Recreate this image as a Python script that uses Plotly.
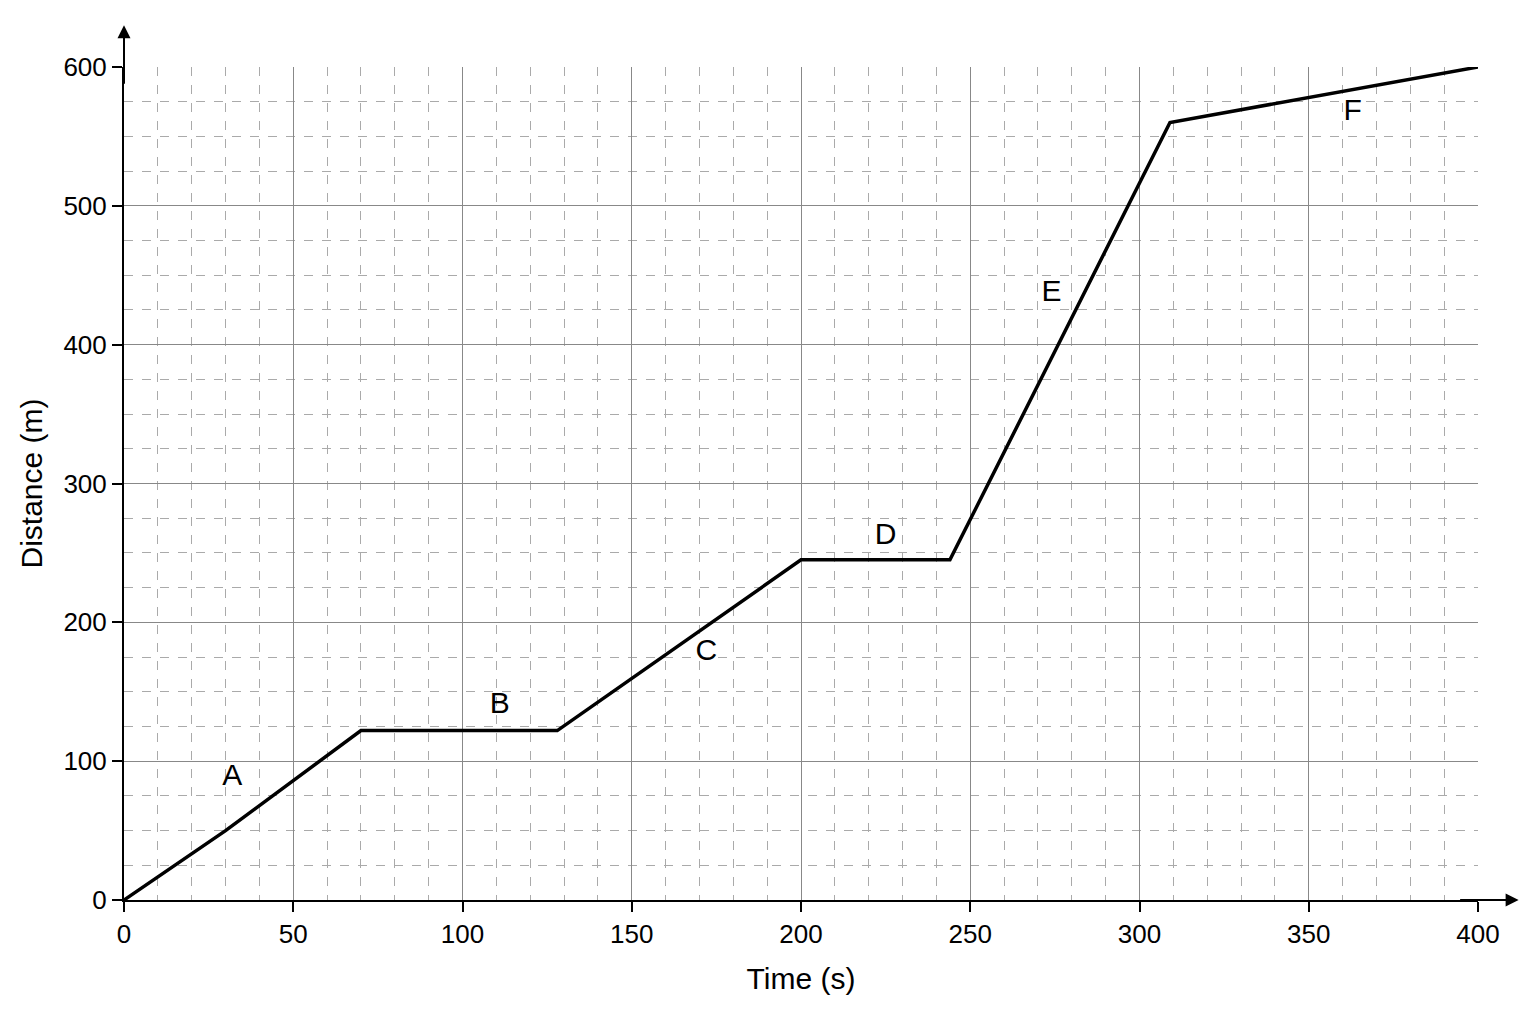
import plotly.graph_objects as go

time_s = [0, 30, 70, 128, 200, 244, 309, 400]
distance_m = [0, 50, 122, 122, 245, 245, 560, 600]

label_text = ["A", "B", "C", "D", "E", "F"]
label_x = [32, 111, 172, 225, 274, 363]
label_y = [88, 140, 178, 262, 437, 567]

FONT = "Liberation Sans, Arial, sans-serif"

fig = go.Figure()
fig.add_trace(go.Scatter(x=time_s, y=distance_m, mode="lines",
                         line=dict(color="black", width=3.5), showlegend=False))
fig.add_trace(go.Scatter(x=label_x, y=label_y, mode="text", text=label_text,
                         textfont=dict(size=30, color="black", family=FONT),
                         showlegend=False))

axis_common = dict(
    showline=True, linecolor="black", linewidth=2, zeroline=False,
    ticks="outside", ticklen=10, tickcolor="black", tickwidth=2,
    gridcolor="#888888", gridwidth=1, automargin=False,
    tickfont=dict(size=26, color="black", family=FONT),
)
fig.update_xaxes(range=[0, 400], dtick=50,
                 title=dict(text="Time (s)", font=dict(size=30, family=FONT, color="black"), standoff=20),
                 minor=dict(dtick=10, showgrid=True, gridcolor="#aaaaaa", griddash="dash", gridwidth=1),
                 **axis_common)
fig.update_yaxes(range=[0, 600], dtick=100,
                 title=dict(text="Distance (m)", font=dict(size=30, family=FONT, color="black"), standoff=12),
                 minor=dict(dtick=25, showgrid=True, gridcolor="#aaaaaa", griddash="dash", gridwidth=1),
                 **axis_common)

# axis arrows
fig.add_annotation(xref="paper", yref="paper", x=1.03, y=0, ax=-60, ay=0,
                   showarrow=True, arrowhead=2, arrowsize=1.3, arrowwidth=2, arrowcolor="black", text="")
fig.add_annotation(xref="paper", yref="paper", x=0, y=1.05, ax=0, ay=60,
                   showarrow=True, arrowhead=2, arrowsize=1.3, arrowwidth=2, arrowcolor="black", text="")

fig.update_layout(
    width=1536, height=1024,
    margin=dict(l=116, r=66, t=59, b=132, autoexpand=False),
    plot_bgcolor="white", paper_bgcolor="white",
    font=dict(family=FONT, color="black"),
)
fig.write_html("out.html")
